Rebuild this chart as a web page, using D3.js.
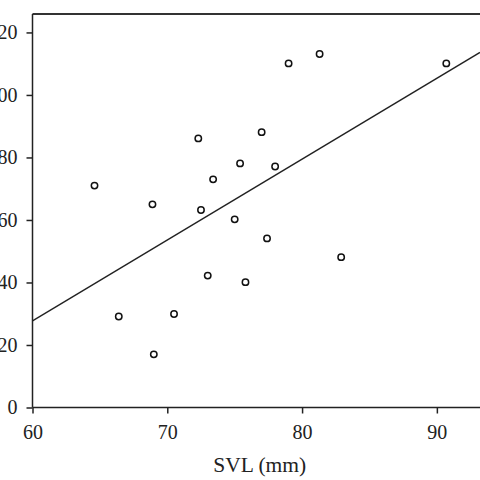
<!DOCTYPE html>
<html>
<head>
<meta charset="utf-8">
<script src="https://cdn.jsdelivr.net/npm/d3@7"></script>
<style>
  html, body { margin: 0; padding: 0; background: #fff; }
  svg { display: block; }
  .axis text { font-family: "Liberation Serif", "DejaVu Serif", serif; font-size: 20px; fill: #222; }
  .axis path, .axis line { stroke: #222; stroke-width: 1.5px; }
</style>
</head>
<body>
<div id="chart"></div>
<script>
// values
var svl = [64.6, 66.4, 68.9, 69.0, 70.5, 72.3, 72.5, 73.0, 73.4, 75.0,
           75.4, 75.8, 77.0, 77.4, 78.0, 79.0, 81.3, 82.9, 90.7];
var yVals = [71.0, 29.1, 65.0, 17.0, 29.9, 86.1, 63.2, 42.2, 73.0, 60.2,
             78.1, 40.1, 88.1, 54.1, 77.1, 110.1, 113.1, 48.1, 110.1];
var fitX = [60, 93.2];
var fitY = [27.7, 113.6];
var xTicks = [60, 70, 80, 90];
var yTicks = [0, 20, 40, 60, 80, 100, 120];

var width = 480;
var height = 480;
var plotLeft = 32.5, plotTop = 14, plotBottom = 407.5;

var svg = d3.select("#chart").append("svg")
    .attr("width", width)
    .attr("height", height);

var x = d3.scaleLinear().domain([60, 93.2]).range([plotLeft, width]);
var y = d3.scaleLinear().domain([0, 125.9]).range([plotBottom, plotTop]);

// top frame line
svg.append("line")
    .attr("x1", plotLeft).attr("x2", width)
    .attr("y1", plotTop).attr("y2", plotTop)
    .attr("stroke", "#333")
    .attr("stroke-width", 2);

svg.append("g")
    .attr("class", "axis")
    .attr("transform", "translate(0," + plotBottom + ")")
    .call(d3.axisBottom(x).tickValues(xTicks).tickSize(6).tickSizeOuter(0).tickPadding(11))
    .call(function (g) { g.select(".domain").attr("d", "M" + plotLeft + ",0H" + width); });

svg.append("g")
    .attr("class", "axis")
    .attr("transform", "translate(" + plotLeft + ",0)")
    .call(d3.axisLeft(y).tickValues(yTicks).tickSize(6).tickSizeOuter(0).tickPadding(9))
    .call(function (g) { g.select(".domain").attr("d", "M0," + plotBottom + "V" + plotTop); });

// fitted line
var line = d3.line()
    .x(function (d, i) { return x(fitX[i]); })
    .y(function (d) { return y(d); });

svg.append("path")
    .datum(fitY)
    .attr("d", line)
    .attr("fill", "none")
    .attr("stroke", "#222")
    .attr("stroke-width", 1.4);

svg.append("g").selectAll("circle")
    .data(svl)
    .enter().append("circle")
    .attr("cx", function (d) { return x(d); })
    .attr("cy", function (d, i) { return y(yVals[i]); })
    .attr("r", 3.2)
    .attr("fill", "#fff")
    .attr("stroke", "#111")
    .attr("stroke-width", 1.5);

svg.append("text")
    .attr("x", 259.7)
    .attr("y", 471.5)
    .attr("text-anchor", "middle")
    .style("font-family", "'Liberation Serif', 'DejaVu Serif', serif")
    .style("font-size", "21.5px")
    .style("fill", "#222")
    .text("SVL (mm)");
</script>
</body>
</html>
